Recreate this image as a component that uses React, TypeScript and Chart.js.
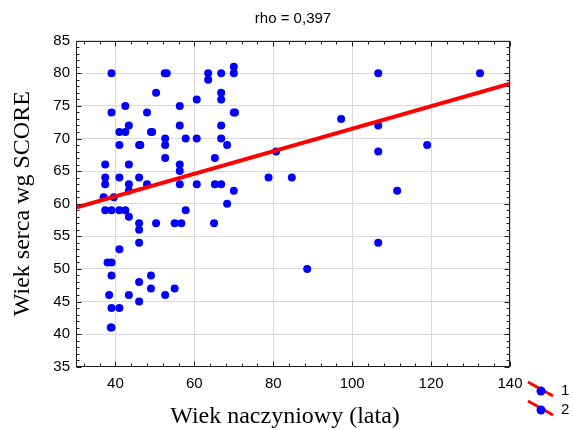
import React, { useEffect, useRef } from "react";
import { Chart, registerables } from "chart.js";

Chart.register(...registerables);

// Scatter points: vascular age (x) vs heart age by SCORE (y)
const pointX = [
  37.4, 37.4, 37.4, 37, 37.4, 39, 39, 39.6, 39, 38, 39, 39, 38.4, 39, 39, 38.8,
  41, 41, 41, 41, 41, 41, 42.5, 42.5, 42.5, 43.4, 43.4, 43.4, 43.4, 43.4, 43.4,
  46, 46.3, 46, 46, 46, 46, 46, 46, 48, 48, 49, 49.3, 49, 49, 50.3, 50.3,
  52.5, 53, 52.6, 52.6, 52.6, 52.6, 55, 56.7, 55, 56.3, 56.3, 56.3, 56.3, 56.3,
  57.8, 57.8, 60.6, 60.6, 60.6, 63.5, 63.5, 65.2, 65.2, 65, 66.8, 66.8, 66.8,
  66.8, 66.8, 66.8, 68.3, 68.3, 70, 70, 70, 70.3, 70, 78.8, 80.7, 84.7, 88.6,
  97.2, 106.6, 106.6, 106.6, 106.6, 111.4, 119, 132.4,
];
const pointY = [
  66, 64, 63, 61, 59, 80, 74, 61, 59, 51, 51, 49, 46, 44, 41, 41,
  71, 69, 64, 59, 53, 44, 75, 71, 59, 72, 66, 63, 62, 58, 46,
  69, 69, 64, 57, 56, 54, 48, 45, 74, 63, 71, 71, 49, 47, 77, 57,
  80, 80, 70, 69, 67, 46, 57, 57, 47, 75, 72, 66, 65, 63,
  70, 59, 76, 70, 63, 80, 79, 67, 63, 57, 80, 77, 76,
  72, 70, 63, 69, 60, 81, 80, 74, 74, 62, 64, 68, 64, 50,
  73, 80, 72, 68, 54, 62, 69, 80,
];

// Regression line end points
const lineX = [30, 140];
const lineY = [59.4, 78.4];

const xTickValues = [40, 60, 80, 100, 120, 140];
const yTickValues = [35, 40, 45, 50, 55, 60, 65, 70, 75, 80, 85];
const seriesLabels = ["1", "2"];
const chartTitle = "rho = 0,397";
const xAxisTitle = "Wiek naczyniowy (lata)";
const yAxisTitle = "Wiek serca wg SCORE";

const SANS = "'Liberation Sans', Arial, sans-serif";
const SERIF = "'Liberation Serif', 'Times New Roman', serif";

const decorPlugin = {
  id: "decor",
  afterDraw(chart: any) {
    const { ctx, chartArea: a, scales } = chart;
    const xs = scales.x;
    const ys = scales.y;
    ctx.save();
    // frame
    ctx.strokeStyle = "#1e1e1e";
    ctx.lineWidth = 1;
    const L = Math.round(a.left) + 0.5;
    const R = Math.round(a.right) - 0.5;
    const T = Math.round(a.top) + 0.5;
    const B = Math.round(a.bottom) - 0.5;
    ctx.strokeRect(L, T, R - L, B - T);
    ctx.beginPath();
    // x ticks (minor every 4, major every 20), inward on top and bottom
    for (let v = 32; v <= 140; v += 4) {
      const px = Math.round(xs.getPixelForValue(v)) + 0.5;
      const len = (v - 40) % 20 === 0 ? 5 : 3;
      ctx.moveTo(px, B);
      ctx.lineTo(px, B - len);
      ctx.moveTo(px, T);
      ctx.lineTo(px, T + len);
    }
    // y ticks (minor every 1, major every 5)
    for (let v = 35; v <= 85; v += 1) {
      const py = Math.round(ys.getPixelForValue(v)) + 0.5;
      const len = v % 5 === 0 ? 5 : 3;
      ctx.moveTo(L, py);
      ctx.lineTo(L + len, py);
      ctx.moveTo(R, py);
      ctx.lineTo(R - len, py);
    }
    ctx.stroke();

    // titles
    ctx.fillStyle = "#000";
    ctx.font = `15px ${SANS}`;
    ctx.textAlign = "center";
    ctx.textBaseline = "middle";
    ctx.fillText(chartTitle, (a.left + a.right) / 2, 19);

    ctx.font = `24px ${SERIF}`;
    ctx.textBaseline = "alphabetic";
    ctx.fillText(xAxisTitle, 285, 423);

    ctx.save();
    ctx.translate(29, (a.top + a.bottom) / 2);
    ctx.rotate(-Math.PI / 2);
    ctx.fillText(yAxisTitle, 0, 0);
    ctx.restore();

    // legend
    ctx.textBaseline = "middle";
    seriesLabels.forEach((lab, i) => {
      const cy = 391 + i * 19;
      ctx.strokeStyle = "#ff0000";
      ctx.lineWidth = 3;
      ctx.beginPath();
      ctx.moveTo(528, cy - 9);
      ctx.lineTo(553, cy + 5);
      ctx.stroke();
      ctx.fillStyle = "#0000ff";
      ctx.beginPath();
      ctx.arc(541, cy, 4.5, 0, Math.PI * 2);
      ctx.fill();
      ctx.fillStyle = "#000";
      ctx.font = `15px ${SANS}`;
      ctx.textAlign = "left";
      ctx.fillText(lab, 561, cy);
    });
    ctx.restore();
  },
};

export default function App() {
  const ref = useRef<HTMLCanvasElement | null>(null);

  useEffect(() => {
    if (!ref.current) return;
    const scatterData = pointX.map((x, i) => ({ x, y: pointY[i] }));
    const lineData = lineX.map((x, i) => ({ x, y: lineY[i] }));
    const chart = new Chart(ref.current, {
      type: "scatter",
      data: {
        datasets: [
          {
            label: seriesLabels[0],
            data: scatterData,
            backgroundColor: "#0000ff",
            borderColor: "#0000ff",
            pointRadius: 4,
            pointBorderWidth: 0,
            order: 1,
          },
          {
            label: seriesLabels[1],
            type: "line",
            data: lineData,
            borderColor: "#ff0000",
            borderWidth: 4,
            pointRadius: 0,
            fill: false,
            order: 0,
          } as any,
        ],
      },
      options: {
        animation: false,
        responsive: false,
        devicePixelRatio: 1,
        layout: { padding: { left: 0, top: 40.7, right: 63, bottom: 0 } },
        plugins: {
          legend: { display: false },
          tooltip: { enabled: false },
          title: { display: false },
        },
        scales: {
          x: {
            type: "linear",
            min: 30,
            max: 140,
            afterFit(s: any) {
              s.height = 63.3;
            },
            afterBuildTicks(s: any) {
              s.ticks = xTickValues.map((v) => ({ value: v }));
            },
            grid: { color: "#d9d9d9", lineWidth: 1, drawTicks: false },
            border: { display: false },
            ticks: {
              padding: 8,
              color: "#000",
              font: { family: SANS, size: 15 },
              maxRotation: 0,
            },
          },
          y: {
            type: "linear",
            min: 35,
            max: 85,
            afterFit(s: any) {
              s.width = 76;
            },
            afterBuildTicks(s: any) {
              s.ticks = yTickValues.map((v) => ({ value: v }));
            },
            grid: { color: "#d9d9d9", lineWidth: 1, drawTicks: false },
            border: { display: false },
            ticks: {
              padding: 6,
              color: "#000",
              font: { family: SANS, size: 15 },
            },
          },
        },
      },
      plugins: [decorPlugin],
    });
    return () => chart.destroy();
  }, []);

  return (
    <div
      style={{
        position: "fixed",
        left: 0,
        top: 0,
        width: 573,
        height: 430,
        background: "#fff",
      }}
    >
      <canvas ref={ref} width={573} height={430} />
    </div>
  );
}
